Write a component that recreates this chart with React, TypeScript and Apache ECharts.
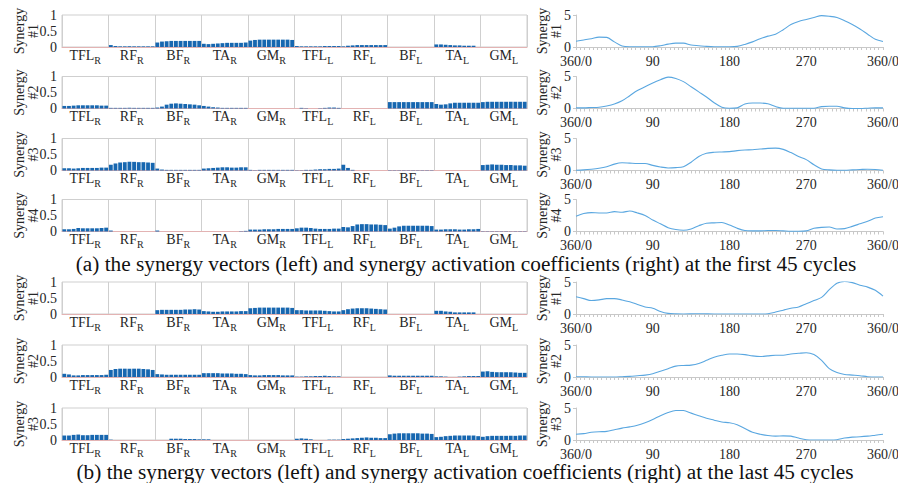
import React, { useEffect, useRef } from 'react';
import * as echarts from 'echarts';

// ---------- categories / tick labels ----------
const muscleCategories = ['TFL_R', 'RF_R', 'BF_R', 'TA_R', 'GM_R', 'TFL_L', 'RF_L', 'BF_L', 'TA_L', 'GM_L'];
const synergyNames = ['Synergy\n#1', 'Synergy\n#2', 'Synergy\n#3', 'Synergy\n#4', 'Synergy\n#1', 'Synergy\n#2', 'Synergy\n#3'];
const phaseTickLabels = ['360/0', '90', '180', '270', '360/0'];
const captionA = '(a) the synergy vectors (left) and synergy activation coefficients (right) at the first 45 cycles';
const captionB = '(b) the synergy vectors (left) and synergy activation coefficients (right) at the last 45 cycles';

// gait phase (deg) of activation samples
const phaseDeg = [0, 9, 18, 27, 36, 45, 54, 63, 72, 81, 90, 99, 108, 117, 126, 135, 144, 153, 162, 171, 180,
  189, 198, 207, 216, 225, 234, 243, 252, 261, 270, 279, 288, 297, 306, 315, 324, 333, 342, 351, 360];

// ---------- synergy vectors (10 bars per muscle) : first 45 cycles ----------
const vecA1 = [
  0, 0, 0, 0, 0, 0, 0, 0, 0, 0,
  0.06, 0.03, 0.02, 0.02, 0.02, 0.02, 0.02, 0.02, 0.02, 0.02,
  0.14, 0.17, 0.18, 0.19, 0.19, 0.19, 0.19, 0.19, 0.19, 0.19,
  0.1, 0.09, 0.1, 0.11, 0.12, 0.13, 0.13, 0.13, 0.13, 0.14,
  0.2, 0.22, 0.23, 0.23, 0.23, 0.23, 0.23, 0.23, 0.23, 0.22,
  0.03, 0.02, 0.02, 0.02, 0.02, 0.02, 0.03, 0.03, 0.03, 0.03,
  0.02, 0.04, 0.05, 0.06, 0.06, 0.06, 0.06, 0.06, 0.06, 0.06,
  0, 0, 0, 0, 0, 0, 0, 0, 0, 0,
  0.08, 0.08, 0.07, 0.06, 0.05, 0.05, 0.04, 0.04, 0.04, 0,
  0, 0, 0, 0, 0, 0, 0, 0, 0, 0,
];
const vecA2 = [
  0.08, 0.08, 0.09, 0.1, 0.1, 0.1, 0.1, 0.1, 0.09, 0.09,
  0.02, 0.02, 0.02, 0.02, 0.02, 0.02, 0.02, 0.02, 0.02, 0.02,
  0.03, 0.06, 0.12, 0.15, 0.16, 0.15, 0.14, 0.13, 0.12, 0.1,
  0.08, 0.06, 0.04, 0.03, 0.02, 0.02, 0.02, 0.02, 0.02, 0.02,
  0, 0, 0, 0, 0, 0, 0, 0, 0, 0,
  0, 0.02, 0.01, 0, 0, 0.01, 0.02, 0.03, 0.03, 0.02,
  0, 0, 0, 0, 0, 0, 0, 0, 0, 0,
  0.2, 0.2, 0.2, 0.2, 0.2, 0.2, 0.2, 0.2, 0.2, 0.2,
  0.14, 0.12, 0.13, 0.16, 0.18, 0.18, 0.18, 0.18, 0.18, 0.18,
  0.2, 0.21, 0.21, 0.21, 0.21, 0.21, 0.21, 0.21, 0.21, 0.21,
];
const vecA3 = [
  0.07, 0.07, 0.06, 0.07, 0.08, 0.08, 0.08, 0.08, 0.09, 0.09,
  0.18, 0.22, 0.25, 0.26, 0.27, 0.27, 0.26, 0.26, 0.25, 0.24,
  0.06, 0.03, 0.02, 0.02, 0.02, 0.02, 0.02, 0.02, 0.02, 0.02,
  0.06, 0.07, 0.08, 0.09, 0.1, 0.1, 0.09, 0.09, 0.1, 0.1,
  0.02, 0.01, 0.02, 0.02, 0.02, 0.02, 0.02, 0.02, 0.02, 0.02,
  0.01, 0.01, 0.02, 0.02, 0.03, 0.04, 0.04, 0.05, 0.05, 0.06,
  0.18, 0.08, 0.02, 0, 0, 0, 0, 0, 0, 0,
  0.01, 0.01, 0.01, 0.01, 0.01, 0.01, 0.01, 0.01, 0.01, 0.01,
  0, 0, 0, 0, 0, 0, 0, 0, 0, 0,
  0.17, 0.18, 0.19, 0.18, 0.18, 0.17, 0.17, 0.16, 0.16, 0.15,
];
const vecA4 = [
  0.07, 0.07, 0.08, 0.11, 0.1, 0.1, 0.1, 0.1, 0.11, 0.12,
  0.03, 0, 0, 0, 0, 0, 0, 0, 0, 0,
  0.03, 0, 0, 0, 0, 0, 0, 0, 0, 0,
  0, 0, 0, 0, 0, 0, 0, 0, 0.01, 0.02,
  0.06, 0.06, 0.06, 0.07, 0.07, 0.07, 0.08, 0.08, 0.08, 0.08,
  0.1, 0.12, 0.12, 0.11, 0.09, 0.08, 0.08, 0.08, 0.09, 0.09,
  0.14, 0.13, 0.17, 0.22, 0.23, 0.23, 0.22, 0.22, 0.21, 0.2,
  0.09, 0.12, 0.16, 0.18, 0.18, 0.18, 0.18, 0.18, 0.18, 0.17,
  0.06, 0.06, 0.07, 0.07, 0.07, 0.06, 0.06, 0.07, 0.07, 0.08,
  0.01, 0.01, 0.01, 0.01, 0.01, 0.01, 0.01, 0.01, 0.01, 0.01,
];

// ---------- synergy vectors : last 45 cycles ----------
const vecB1 = [
  0, 0, 0, 0, 0, 0, 0, 0, 0, 0,
  0, 0, 0, 0, 0, 0, 0, 0, 0, 0,
  0.12, 0.13, 0.13, 0.13, 0.13, 0.13, 0.14, 0.14, 0.15, 0.14,
  0.09, 0.08, 0.07, 0.07, 0.08, 0.08, 0.08, 0.08, 0.09, 0.09,
  0.18, 0.19, 0.2, 0.2, 0.2, 0.2, 0.2, 0.2, 0.2, 0.19,
  0.12, 0.12, 0.11, 0.11, 0.11, 0.11, 0.1, 0.09, 0.08, 0.08,
  0.12, 0.15, 0.17, 0.18, 0.18, 0.18, 0.17, 0.16, 0.15, 0.14,
  0, 0, 0, 0, 0, 0, 0, 0, 0, 0,
  0.1, 0.1, 0.08, 0.07, 0.05, 0.05, 0.05, 0.05, 0.05, 0,
  0, 0, 0, 0, 0, 0, 0, 0, 0, 0,
];
const vecB2 = [
  0.1, 0.08, 0.05, 0.05, 0.06, 0.06, 0.06, 0.06, 0.06, 0.07,
  0.22, 0.25, 0.26, 0.26, 0.26, 0.26, 0.26, 0.25, 0.24, 0.22,
  0.09, 0.08, 0.07, 0.07, 0.07, 0.07, 0.07, 0.07, 0.07, 0.07,
  0.12, 0.12, 0.12, 0.12, 0.11, 0.11, 0.11, 0.1, 0.1, 0.09,
  0.06, 0.05, 0.05, 0.06, 0.06, 0.06, 0.06, 0.05, 0.05, 0.05,
  0.01, 0.01, 0.02, 0.02, 0.03, 0.03, 0.04, 0.03, 0.02, 0.02,
  0, 0, 0, 0, 0, 0, 0, 0, 0, 0,
  0.05, 0.04, 0.04, 0.04, 0.04, 0.04, 0.04, 0.04, 0.04, 0.04,
  0.02, 0.02, 0.01, 0, 0, 0.01, 0.02, 0.03, 0.03, 0.03,
  0.17, 0.18, 0.16, 0.15, 0.15, 0.15, 0.15, 0.14, 0.13, 0.13,
];
const vecB3 = [
  0.14, 0.14, 0.16, 0.17, 0.15, 0.15, 0.16, 0.16, 0.16, 0.16,
  0.01, 0, 0, 0, 0, 0, 0, 0, 0, 0,
  0, 0, 0, 0.04, 0.04, 0.04, 0.03, 0.03, 0.03, 0.02,
  0.02, 0.02, 0, 0, 0, 0, 0, 0, 0, 0,
  0, 0, 0, 0, 0, 0, 0, 0, 0, 0,
  0.04, 0.05, 0.04, 0.02, 0, 0, 0, 0.01, 0.01, 0.01,
  0.03, 0.04, 0.05, 0.06, 0.07, 0.08, 0.07, 0.07, 0.06, 0.06,
  0.18, 0.2, 0.21, 0.21, 0.21, 0.21, 0.21, 0.2, 0.2, 0.19,
  0.09, 0.1, 0.12, 0.13, 0.14, 0.14, 0.14, 0.14, 0.14, 0.12,
  0.1, 0.12, 0.13, 0.13, 0.13, 0.13, 0.13, 0.13, 0.14, 0.14,
];

// ---------- activation coefficients ----------
const actA1 = [0.9, 1.1, 1.3, 1.55, 1.5, 0.8, 0.15, 0.05, 0.05, 0.05, 0.05, 0.2, 0.45, 0.6, 0.6, 0.3, 0.2, 0.1, 0.05, 0.05, 0.05,
  0.1, 0.4, 0.8, 1.3, 1.7, 2.0, 2.7, 3.5, 4.0, 4.3, 4.6, 4.9, 4.8, 4.6, 4.1, 3.5, 2.8, 2.0, 1.2, 0.85];
const actA2 = [0.1, 0.1, 0.15, 0.2, 0.4, 0.7, 1.2, 2.0, 2.8, 3.4, 4.0, 4.5, 4.9, 4.7, 4.2, 3.4, 2.6, 1.8, 0.9, 0.2, 0.05,
  0.1, 0.7, 0.85, 0.85, 0.75, 0.3, 0.05, 0.05, 0.05, 0.05, 0.05, 0.3, 0.35, 0.35, 0.1, 0, 0, 0.05, 0.1, 0.1];
const actA3 = [0.05, 0.1, 0.2, 0.35, 0.6, 1.0, 1.2, 1.15, 1.1, 1.1, 0.8, 0.55, 0.4, 0.45, 0.6, 1.3, 2.2, 2.7, 2.85, 2.9, 2.95,
  3.1, 3.2, 3.25, 3.35, 3.45, 3.5, 3.3, 2.8, 2.2, 1.7, 0.9, 0.25, 0.1, 0.05, 0.05, 0.1, 0.15, 0.2, 0.15, 0.05];
const actA4 = [2.4, 2.8, 2.95, 2.9, 2.9, 3.1, 3.0, 3.2, 2.9, 2.5, 1.8, 1.2, 0.6, 0.3, 0.2, 0.4, 0.9, 1.3, 1.35, 1.4, 1.0,
  0.5, 0.15, 0.1, 0.1, 0.15, 0.15, 0.1, 0.05, 0.05, 0.1, 0.5, 0.65, 0.7, 0.4, 0.45, 0.8, 1.2, 1.6, 2.1, 2.3];
const actB1 = [2.7, 2.4, 2.1, 2.2, 2.4, 2.4, 2.2, 1.9, 1.5, 1.1, 0.9, 0.4, 0.1, 0.02, 0, 0.02, 0.05, 0.02, 0, 0, 0,
  0, 0, 0, 0, 0.05, 0.3, 0.6, 0.9, 1.1, 1.6, 2.1, 2.6, 3.8, 4.8, 5.1, 4.9, 4.5, 4.2, 3.7, 2.8];
const actB2 = [0.05, 0.03, 0, 0, 0, 0, 0.05, 0.1, 0.2, 0.3, 0.5, 0.9, 1.3, 1.7, 1.8, 1.85, 2.1, 2.6, 3.1, 3.4, 3.6,
  3.6, 3.5, 3.3, 3.2, 3.3, 3.4, 3.4, 3.6, 3.7, 3.8, 3.5, 2.6, 1.3, 0.7, 0.4, 0.3, 0.2, 0.05, 0, 0];
const actB3 = [0.9, 1.0, 1.2, 1.3, 1.35, 1.6, 1.85, 2.05, 2.3, 2.7, 3.2, 3.8, 4.3, 4.6, 4.6, 4.2, 3.8, 3.4, 3.1, 2.8, 2.7,
  2.4, 1.8, 1.2, 0.9, 0.7, 0.6, 0.65, 0.6, 0.3, 0.05, 0, 0, 0, 0.05, 0.3, 0.45, 0.5, 0.6, 0.75, 0.9];

const vectorRows = [vecA1, vecA2, vecA3, vecA4, vecB1, vecB2, vecB3];
const activationRows = [actA1, actA2, actA3, actA4, actB1, actB2, actB3];

// ---------- layout ----------
const FONT = '"Liberation Serif", "Times New Roman", serif';
const TEXT = '#262626';
const ROW_TOPS = [15, 76.5, 138.5, 199.5, 282, 345, 408];
const ROW_H = 32;
const LEFT_X = 62;
const LEFT_W = 465;
const RIGHT_X = 576;
const RIGHT_W = 307;

function buildOption() {
  const grid: any[] = [];
  const xAxis: any[] = [];
  const yAxis: any[] = [];
  const series: any[] = [];
  const nRows = vectorRows.length;
  const barSlots = vectorRows[0].map((_, i) => String(i));

  ROW_TOPS.forEach((top) => {
    grid.push({
      left: LEFT_X, top, width: LEFT_W, height: ROW_H, show: true, borderColor: '#cfcfcf', borderWidth: 1,
      backgroundColor: 'transparent', containLabel: false, outerBoundsMode: 'none',
    });
  });
  ROW_TOPS.forEach((top) => {
    grid.push({ left: RIGHT_X, top, width: RIGHT_W, height: ROW_H, show: false, containLabel: false, outerBoundsMode: 'none' });
  });

  // left: bar slot axes
  for (let i = 0; i < nRows; i++) {
    xAxis.push({
      type: 'category', gridIndex: i, data: barSlots, position: 'bottom',
      axisLine: { show: true, lineStyle: { color: '#e3b3b3', width: 1 } },
      axisTick: { show: false }, axisLabel: { show: false }, splitLine: { show: false },
    });
  }
  // left: muscle group axes (labels and separators)
  for (let i = 0; i < nRows; i++) {
    xAxis.push({
      type: 'category', gridIndex: i, data: muscleCategories, position: 'bottom',
      axisLine: { show: false }, axisTick: { show: false },
      splitLine: { show: true, interval: 0, lineStyle: { color: '#cfcfcf', width: 1 } },
      axisLabel: {
        interval: 0, margin: 0, hideOverlap: false,
        formatter: (v: string) => {
          const [m, s] = v.split('_');
          return `{a|${m}}{s|${s}}`;
        },
        rich: {
          a: { fontSize: 14, fontFamily: FONT, color: TEXT, lineHeight: 16 },
          s: { fontSize: 10, fontFamily: FONT, color: TEXT, lineHeight: 12, padding: [10, 0, 0, 0] },
        },
      },
    });
  }
  // right: phase axes
  for (let i = 0; i < nRows; i++) {
    xAxis.push({
      type: 'value', gridIndex: nRows + i, min: 0, max: 360, interval: 90,
      axisLine: { show: true, lineStyle: { color: '#c8c8c8', width: 1 } },
      axisTick: { show: true, length: 3, lineStyle: { color: '#c8c8c8' } },
      minorTick: { show: true, splitNumber: 18, length: 3, lineStyle: { color: '#c8c8c8' } },
      splitLine: { show: false },
      axisLabel: {
        margin: 7, fontSize: 14, fontFamily: FONT, color: TEXT, showMinLabel: true, showMaxLabel: true,
        formatter: (v: number) => phaseTickLabels[Math.round(v / 90)],
      },
    });
  }

  for (let i = 0; i < nRows; i++) {
    yAxis.push({
      type: 'value', gridIndex: i, min: 0, max: 1, interval: 0.5,
      name: synergyNames[i], nameLocation: 'middle', nameGap: 22, nameRotate: 90, nameMoveOverlap: false,
      nameTextStyle: { fontSize: 14, fontFamily: FONT, color: TEXT, lineHeight: 14 },
      axisLine: { show: false }, axisTick: { show: false }, splitLine: { show: false },
      axisLabel: { margin: 5, fontSize: 14, fontFamily: FONT, color: TEXT },
    });
  }
  for (let i = 0; i < nRows; i++) {
    yAxis.push({
      type: 'value', gridIndex: nRows + i, min: 0, max: 5, interval: 5,
      name: synergyNames[i], nameLocation: 'middle', nameGap: 13, nameRotate: 90, nameMoveOverlap: false,
      nameTextStyle: { fontSize: 14, fontFamily: FONT, color: TEXT, lineHeight: 14 },
      axisLine: { show: true, lineStyle: { color: '#c8c8c8', width: 1 } },
      axisTick: { show: true, length: 3, lineStyle: { color: '#c8c8c8' } },
      splitLine: { show: false },
      axisLabel: { margin: 5, fontSize: 14, fontFamily: FONT, color: TEXT },
    });
  }

  vectorRows.forEach((vals, i) => {
    series.push({
      type: 'bar', xAxisIndex: i, yAxisIndex: i, data: vals,
      barCategoryGap: '18%', itemStyle: { color: '#1767b0' }, silent: true,
    });
  });
  activationRows.forEach((vals, i) => {
    series.push({
      type: 'line', xAxisIndex: 2 * nRows + i, yAxisIndex: nRows + i,
      data: phaseDeg.map((d, k) => [d, vals[k]]),
      showSymbol: false, smooth: 0.3,
      lineStyle: { color: '#5aa7e0', width: 1.1 }, silent: true,
    });
  });

  const captionStyle = (text: string) => ({
    text, fontSize: 21.3, fontFamily: FONT, fill: '#111',
    align: 'center', verticalAlign: 'middle', textAlign: 'center', textVerticalAlign: 'middle',
  });

  return {
    animation: false,
    backgroundColor: '#ffffff',
    grid, xAxis, yAxis, series,
    graphic: [
      { type: 'text', x: 466, y: 264, style: captionStyle(captionA) },
      { type: 'text', x: 465, y: 472, style: captionStyle(captionB) },
    ],
  };
}

export default function App() {
  const ref = useRef<HTMLDivElement>(null);
  useEffect(() => {
    document.body.style.margin = '0';
    if (!ref.current) return;
    const chart = echarts.init(ref.current, undefined, { renderer: 'svg' });
    chart.setOption(buildOption() as any);
    return () => chart.dispose();
  }, []);
  return <div ref={ref} style={{ position: 'absolute', left: 0, top: 0, width: 898, height: 483 }} />;
}
